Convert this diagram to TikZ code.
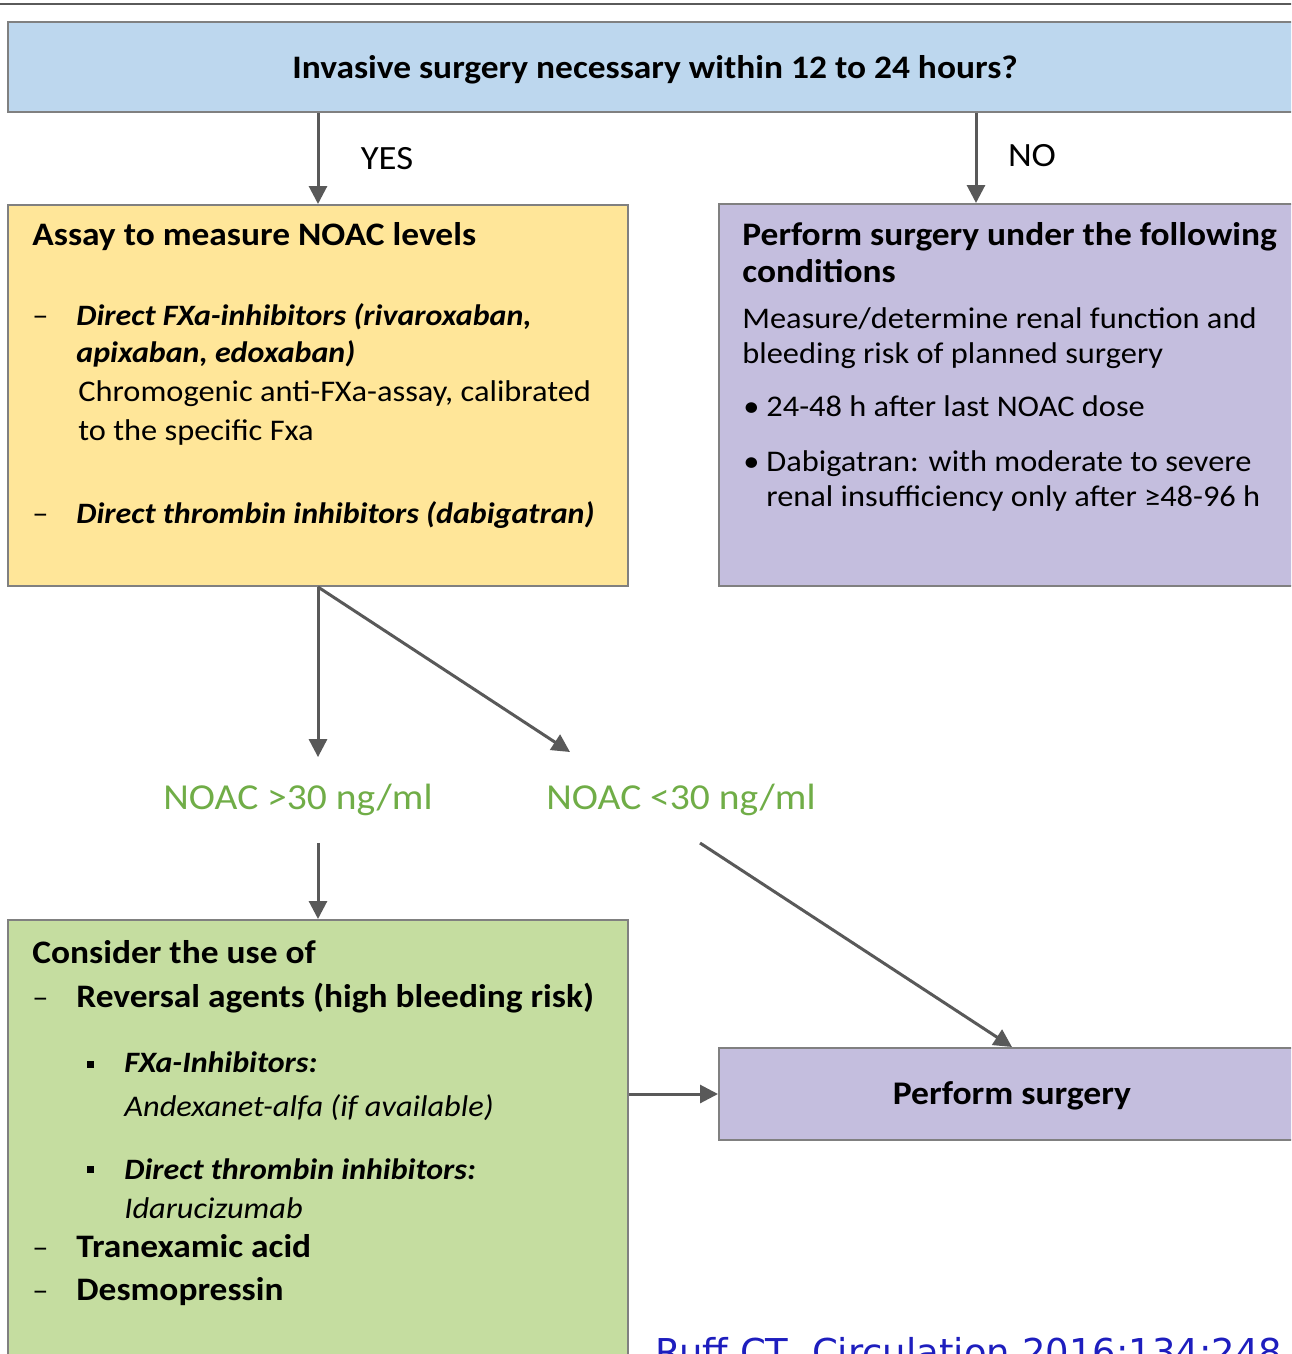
\documentclass[tikz,border=0pt]{standalone}
\usepackage{fontspec}
\setmainfont{Carlito}[FakeStretch=1.08]
\newfontfamily\citefont{DejaVu Sans}
\usetikzlibrary{arrows.meta,fit}

\definecolor{askblue}{RGB}{189,215,238}
\definecolor{assayyellow}{RGB}{255,230,153}
\definecolor{condpurple}{RGB}{196,190,222}
\definecolor{revgreen}{RGB}{197,221,160}
\definecolor{noacgreen}{RGB}{112,173,71}
\definecolor{linegray}{RGB}{89,89,89}
\definecolor{framegray}{RGB}{128,128,128}
\definecolor{citeblue}{RGB}{30,30,190}

\begin{document}
\begin{tikzpicture}[x=0.5pt, y=-0.5pt,
    box/.style={draw=framegray, line width=1pt, inner sep=0pt},
    arr/.style={draw=linegray, line width=1.5pt, -{Triangle[length=9pt,width=9pt]}},
    txt/.style={anchor=mid west, inner sep=0pt, font=\fontsize{15}{18}\selectfont},
    head/.style={txt, font=\fontsize{16.4}{19}\selectfont\bfseries},
    bi/.style={txt, font=\fontsize{14.8}{18}\selectfont\bfseries\itshape},
    it/.style={txt, font=\fontsize{15}{18}\selectfont\itshape},
    noac/.style={inner sep=0pt, minimum height=42.5pt, text=noacgreen, font=\fontsize{18.3}{21}\selectfont},
    sq/.style={fill=black, inner sep=0pt, minimum size=3.5pt}]
        \useasboundingbox (0,0) rectangle (1291,1354);
        \clip (0,0) rectangle (1291,1354);

        \draw[framegray!70!black, line width=1pt] (-10,4) -- (1310,4);

        % boxes
        \node[box, fill=askblue, fit={(8,22) (1305,112)}] (ask) {};
        \node[box, fill=assayyellow, fit={(8,205) (628,586)}] (assay) {};
        \node[box, fill=condpurple, fit={(719,204) (1305,586)}] (cond) {};
        \node[box, fill=revgreen, fit={(8,920) (628,1380)}] (consider) {};
        \node[box, fill=condpurple, fit={(719,1048) (1305,1140)}] (perform) {};

        \node[font=\fontsize{16.4}{19}\selectfont\bfseries] (asktext) at (655,70) {Invasive surgery necessary within 12 to 24 hours?};
        \node[font=\fontsize{17}{20}\selectfont] (yes) at (387,159) {YES};
        \node[font=\fontsize{17}{20}\selectfont] (no) at (1032,156) {NO};
        \coordinate (nox) at (976,0);

        % assay box
        \node[head] (a1) at (32,241) {Assay to measure NOAC levels};
        \node[txt] (a2d) at (32,321) {--};
        \node[bi] (a2) at (76,321) {Direct FXa-inhibitors (rivaroxaban,};
        \node[bi] (a3) at (76,358) {apixaban, edoxaban)};
        \node[txt] (a4) at (78,397) {Chromogenic anti-FXa-assay, calibrated};
        \node[txt] (a5) at (78,436) {to the specific Fxa};
        \node[txt] (a6d) at (32,519) {--};
        \node[bi] (a6) at (76,519) {Direct thrombin inhibitors (dabigatran)};

        % conditions box
        \node[head] (c1) at (742,241) {Perform surgery under the following};
        \node[head] (c2) at (742,278) {conditions};
        \node[txt] (c3) at (742,324) {Measure/determine renal function and};
        \node[txt] (c4) at (742,359) {bleeding risk of planned surgery};
        \node[txt] (c5b) at (743,412) {•};
        \node[txt] (c5) at (766,412) {24-48 h after last NOAC dose};
        \node[txt] (c6b) at (743,467) {•};
        \node[txt] (c6) at (766,467) {Dabigatran: with moderate to severe};
        \node[txt] (c7) at (766,502) {renal insufficiency only after ≥48-96 h};

        % levels
        \node[noac] (gt) at (298,800) {NOAC >30 ng/ml};
        \node[noac] (lt) at (681,800) {NOAC <30 ng/ml};
        \coordinate (ltin) at (570,752);
        \coordinate (ltout) at (700,843);

        % reversal box
        \node[head] (r1) at (32,959) {Consider the use of};
        \node[txt] (r2d) at (32,1003) {--};
        \node[head] (r2) at (76,1003) {Reversal agents (high bleeding risk)};
        \node[sq] (r3b) at (90,1064) {};
        \node[bi] (r3) at (124,1068) {FXa-Inhibitors:};
        \node[it] (r4) at (124,1112) {Andexanet-alfa (if available)};
        \node[sq] (r5b) at (90,1169) {};
        \node[bi] (r5) at (124,1175) {Direct thrombin inhibitors:};
        \node[it] (r6) at (124,1214) {Idarucizumab};
        \node[txt] (r7d) at (32,1253) {--};
        \node[head] (r7) at (76,1253) {Tranexamic acid};
        \node[txt] (r8d) at (32,1296) {--};
        \node[head] (r8) at (76,1296) {Desmopressin};

        \node[font=\fontsize{16.5}{19}\selectfont\bfseries] (ptext) at ([yshift=-1pt]perform.center) {Perform surgery};

        \node[anchor=base west, inner sep=0pt, text=citeblue, font=\citefont\fontsize{18.5}{22}\selectfont] (cite) at (655,1365) {Ruff CT, Circulation 2016;134:248};

        % connectors
        \draw[arr] (ask.south -| assay.north) -- (assay.north);
        \draw[arr] (ask.south -| nox) -- (cond.north -| nox);
        \draw[arr] (assay.south) -- (assay.south |- gt.north);
        \draw[arr] (assay.south) -- (ltin);
        \draw[arr] (consider.north |- gt.south) -- (consider.north);
        \draw[arr] (ltout) -- (perform.north);
        \draw[arr] (consider.east |- perform.west) -- (perform.west);
\end{tikzpicture}
\end{document}
